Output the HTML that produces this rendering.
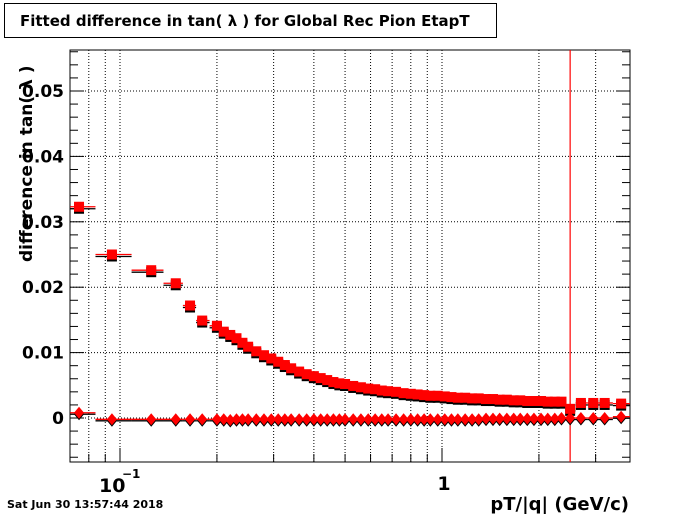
<!DOCTYPE html>
<html><head><meta charset="utf-8"><style>
body{margin:0;background:#fff;width:700px;height:514px;overflow:hidden;font-family:"DejaVu Sans","Liberation Sans",sans-serif}
svg text{font-family:"DejaVu Sans","Liberation Sans",sans-serif;font-weight:bold}
</style></head><body>
<svg id="c" width="700" height="514" xmlns="http://www.w3.org/2000/svg">
<rect x="0" y="0" width="700" height="514" fill="#fff"/>
<g><rect x="4.5" y="3.5" width="492" height="34" fill="#fff" stroke="#000"/>
<text x="20" y="26" font-size="15">Fitted difference in tan( λ ) for Global Rec Pion EtapT</text></g>
<g id="grid"></g><g id="axes"></g><g id="marks"></g>
<text transform="translate(32,262) rotate(-90)" font-size="17">difference in tan( λ )</text>
<text x="629" y="510" font-size="18" text-anchor="end">pT/|q| (GeV/c)</text>
<text x="7" y="508" font-size="11">Sat Jun 30 13:57:44 2018</text>
</svg>
<script>
const pT=[0.0746,0.0944,0.125,0.149,0.165,0.180,0.200,0.21,0.22,0.23,0.24,0.25,0.265,0.28,0.295,0.31,0.325,0.34,0.36,0.38,0.40,0.42,0.44,0.46,0.48,0.50,0.53,0.56,0.59,0.62,0.65,0.68,0.72,0.76,0.80,0.84,0.88,0.92,0.97,1.02,1.07,1.12,1.18,1.24,1.30,1.37,1.44,1.51,1.59,1.67,1.75,1.84,1.93,2.03,2.13,2.24,2.35,2.5,2.7,2.95,3.2,3.6];
const meanVals=[0.0323,0.0250,0.0226,0.0206,0.0172,0.0149,0.0141,0.0132,0.0127,0.0122,0.0115,0.0109,0.0102,0.0096,0.0091,0.0086,0.0081,0.0076,0.0071,0.0067,0.0064,0.0061,0.0058,0.0055,0.0053,0.0052,0.0049,0.0047,0.0045,0.0044,0.0042,0.0041,0.0040,0.0038,0.0037,0.0036,0.0035,0.0034,0.0034,0.0033,0.0032,0.0031,0.0031,0.0030,0.0030,0.0029,0.0029,0.0028,0.0028,0.0027,0.0027,0.0026,0.0026,0.0026,0.0025,0.0025,0.0025,0.0014,0.0023,0.0023,0.0023,0.0022];
const offVals=[0.0008,-0.0002,-0.0002,-0.0002,-0.0002,-0.0002,-0.0002,-0.0002,-0.0003,-0.0002,-0.0002,-0.0002,-0.0002,-0.0002,-0.0002,-0.0002,-0.0002,-0.0002,-0.0002,-0.0002,-0.0002,-0.0002,-0.0002,-0.0002,-0.0002,-0.0002,-0.0002,-0.0002,-0.0002,-0.0002,-0.0002,-0.0002,-0.0002,-0.0002,-0.0002,-0.0002,-0.0002,-0.0002,-0.0002,-0.0002,-0.0002,-0.0002,-0.0002,-0.0002,-0.0002,-0.0001,-0.0001,-0.0001,-0.0001,-0.0001,-0.0001,-0.0001,-0.0001,-0.0001,-0.0001,-0.0001,0.0000,0.0000,0.0000,0.0000,0.0000,0.0002];
const yTicks=[0,0.01,0.02,0.03,0.04,0.05];
const yTickLabels=["0","0.01","0.02","0.03","0.04","0.05"];
const xGrid=[0.08,0.09,0.1,0.2,0.3,0.4,0.5,0.6,0.7,0.8,0.9,1,2,3];
const cutLine=2.5;
const L=70,R=630,T=50,B=462;
const X=v=>442+322*Math.log10(v);
const Y=v=>418-v*6540;
const NS="http://www.w3.org/2000/svg";
function mk(tag,attrs,parent){const e=document.createElementNS(NS,tag);for(const k in attrs)e.setAttribute(k,attrs[k]);parent.appendChild(e);return e;}
const grid=document.getElementById('grid'),axes=document.getElementById('axes'),marks=document.getElementById('marks');
xGrid.forEach(v=>{const l=mk('line',{x1:X(v),x2:X(v),y1:T,y2:B,stroke:'#000','stroke-width':1,'stroke-dasharray':'1,2'},grid);


const t=mk('line',{x1:X(v),x2:X(v),y1:B,y2:B-(v===0.1||v===1?14:8),stroke:'#000'},axes);

});
yTicks.forEach((v,i)=>{const l=mk('line',{x1:L,x2:R,y1:Y(v),y2:Y(v),stroke:'#000','stroke-width':1,'stroke-dasharray':'1,2'},grid);


const t=mk('text',{x:64,y:Y(v)+6,'font-size':17,'text-anchor':'end'},axes);t.textContent=yTickLabels[i];

});
for(let k=-3;k<=28;k++){const v=k*0.002;const y=Y(v);if(y<T||y>B)continue;const big=k%5===0;
mk('line',{x1:L,x2:L+(big?14:8),y1:y,y2:y,stroke:'#000'},axes);mk('line',{x1:R,x2:R-(big?14:8),y1:y,y2:y,stroke:'#000'},axes);}
const fr=mk('rect',{x:L,y:T,width:R-L,height:B-T,fill:'none',stroke:'#000'},axes);


const xl1=mk('text',{x:99,y:492,'font-size':19},axes);xl1.textContent='10';


const xl1e=mk('text',{x:122,y:478,'font-size':12},axes);xl1e.textContent='−1';


const xl2=mk('text',{x:X(1)+2,y:490,'font-size':19,'text-anchor':'middle'},axes);xl2.textContent='1';


const cl=mk('line',{x1:X(cutLine),x2:X(cutLine),y1:T,y2:B,stroke:'#f00','stroke-width':1.2},marks);


function edges(i){const lo=i===0?0.07:Math.sqrt(pT[i-1]*pT[i]);const hi=i===pT.length-1?3.84:Math.sqrt(pT[i]*pT[i+1]);return [X(lo),Math.min(X(hi),R)];}
function series(vals,shape,color,dy,name){vals.forEach((v,i)=>{const x=X(pT[i]),y=Y(v)+dy;const [a,b]=edges(i);
const l=mk('line',{x1:a,x2:b,y1:y,y2:y,stroke:color,'stroke-width':1.3},marks);


let m;if(shape==='sq')m=mk('rect',{x:x-5,y:y-5,width:10,height:10,fill:color},marks);
else m=mk('polygon',{points:`${x},${y-6} ${x+5},${y} ${x},${y+6} ${x-5},${y}`,fill:color},marks);

});}
series(meanVals,'sq','#000',2,'black-mean');
series(offVals,'di','#000',1.5,'black-offset');
series(meanVals,'sq','#f00',0,'red-mean');
series(offVals,'di','#f00',0,'red-offset');
</script>
</body></html>
